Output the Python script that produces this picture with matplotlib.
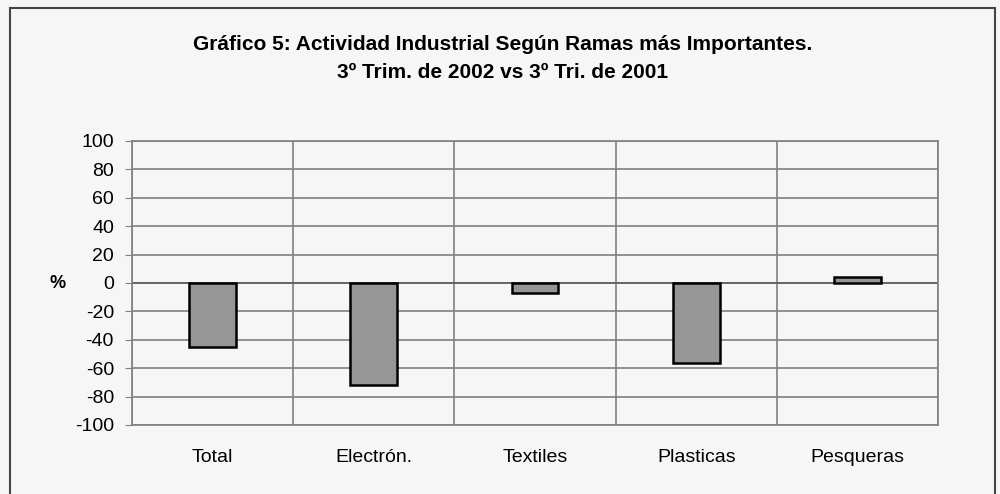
import numpy as np
import matplotlib.pyplot as plt
from matplotlib.patches import Rectangle

categories = ['Total', 'Electrón.', 'Textiles', 'Plasticas', 'Pesqueras']
values = [-45, -72, -7, -56, 4]
yticks = [100, 80, 60, 40, 20, 0, -20, -40, -60, -80, -100]

plt.rcParams['font.family'] = ['Liberation Sans', 'DejaVu Sans']

fig = plt.figure(figsize=(10, 4.94), dpi=100)
fig.patch.set_facecolor('#f6f6f6')

# marco exterior del gráfico
fig.patches.append(Rectangle((0.010, -0.02), 0.985, 1.003, transform=fig.transFigure,
                             fill=False, edgecolor='#444444', linewidth=1.5))

ax = fig.add_axes([0.132, 0.1397, 0.806, 0.5749])
ax.set_facecolor('#f6f6f6')

x = np.arange(len(categories))
ax.bar(x, values, width=0.29, color='#969696', edgecolor='black', linewidth=1.8, zorder=3)

ax.set_xlim(-0.5, len(categories) - 0.5)
ax.set_ylim(-100, 100)
ax.set_yticks(yticks)
ax.set_yticklabels([str(v) for v in yticks], fontsize=14)

# lineas de cuadrícula
for v in yticks:
    ax.axhline(v, color='#808080', linewidth=1.2, zorder=1)
for b in np.arange(-0.5, len(categories), 1.0):
    ax.axvline(b, color='#808080', linewidth=1.2, zorder=1)
ax.axhline(0, color='#606060', linewidth=1.2, zorder=2)

ax.set_xticks(x)
ax.set_xticklabels(categories, fontsize=14)
ax.tick_params(axis='x', length=0, pad=17)
ax.tick_params(axis='y', length=5, color='#808080', pad=8)

for s in ax.spines.values():
    s.set_color('#808080')
    s.set_linewidth(1.2)

fig.text(0.058, 1 - 283 / 494, '%', fontsize=13, fontweight='bold', ha='center', va='center')

fig.text(0.503, 1 - 44 / 494, 'Gráfico 5: Actividad Industrial Según Ramas más Importantes.',
         fontsize=15, fontweight='bold', ha='center', va='center')
fig.text(0.503, 1 - 73 / 494, '3º Trim. de 2002 vs 3º Tri. de 2001',
         fontsize=15, fontweight='bold', ha='center', va='center')

fig.savefig('out.png', dpi=100, facecolor=fig.get_facecolor())
